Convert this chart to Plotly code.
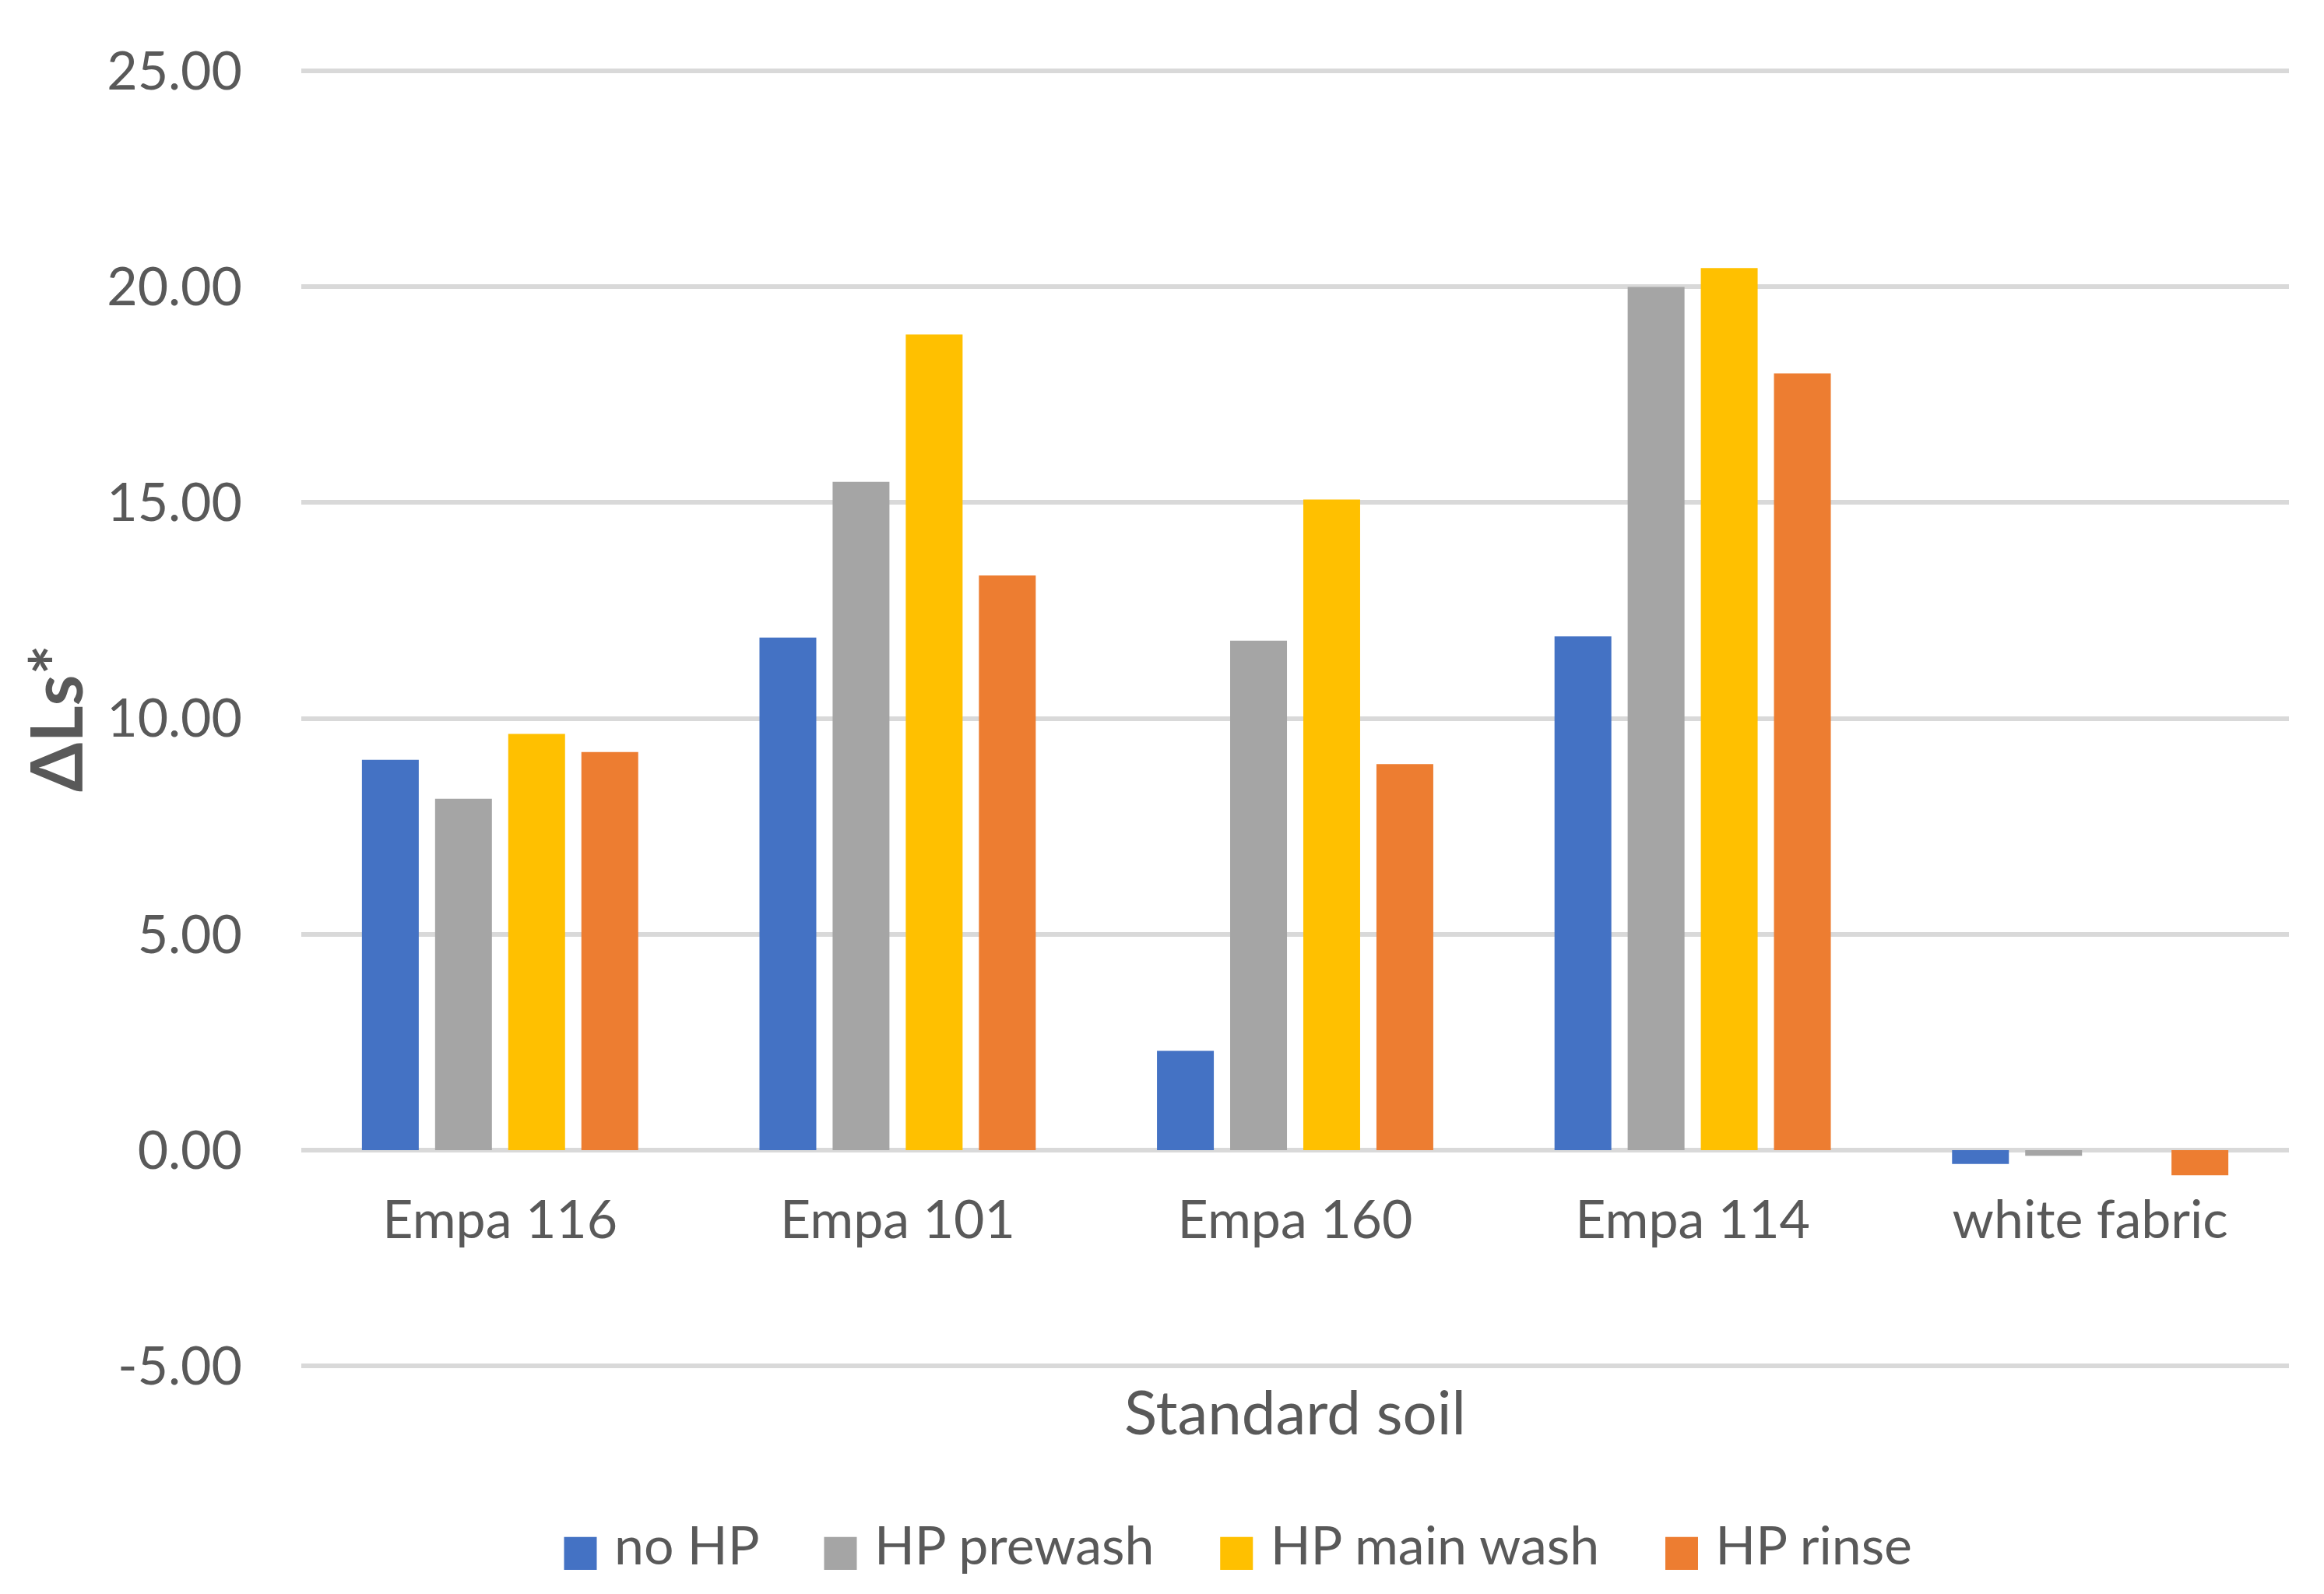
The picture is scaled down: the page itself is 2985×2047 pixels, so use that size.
import plotly.graph_objects as go

categories = ["Empa 116", "Empa 101", "Empa 160", "Empa 114", "white fabric"]
series_names = ["no HP", "HP prewash", "HP main wash", "HP rinse"]
no_hp = [9.04, 11.87, 2.30, 11.90, -0.32]
hp_prewash = [8.14, 15.48, 11.80, 19.99, -0.13]
hp_main_wash = [9.64, 18.89, 15.07, 20.43, 0.0]
hp_rinse = [9.22, 13.31, 8.94, 17.99, -0.58]
series_values = [no_hp, hp_prewash, hp_main_wash, hp_rinse]
colors = ["#4472C4", "#A5A5A5", "#FFC000", "#ED7D31"]

y_tick_vals = [-5, 0, 5, 10, 15, 20, 25]
y_tick_text = ["-5.00", "0.00", "5.00", "10.00", "15.00", "20.00", "25.00"]

FONT = "Lato"
GREY = "#595959"
Y_MIN, Y_MAX = -5.05, 25.05

fig = go.Figure()
for name, vals, col in zip(series_names, series_values, colors):
    fig.add_trace(go.Bar(x=categories, y=vals, name=name, showlegend=False,
                         marker=dict(color=col, line=dict(width=0))))

# legend entries with large square swatches
for i, (name, col) in enumerate(zip(series_names, colors)):
    pad = "\u00a0\u00a0" if i < len(series_names) - 1 else ""
    fig.add_trace(go.Scatter(
        x=[None], y=[None], mode="lines", line=dict(width=0, color=col),
        name=(f'<span style="color:{col};font-family:DejaVu Sans;font-size:55px">■</span>'
              f' {name}{pad}'),
        hoverinfo="skip",
    ))

fig.update_layout(
    width=2985,
    height=2047,
    margin=dict(l=379, r=53, t=80, b=298),
    paper_bgcolor="white",
    plot_bgcolor="white",
    barmode="group",
    bargap=0.264,
    bargroupgap=0.223,
    font=dict(family=FONT, color=GREY, size=68),
    legend=dict(
        orientation="h",
        x=0.4636,
        xanchor="center",
        y=-0.1355,
        yanchor="middle",
        font=dict(family=FONT, size=68, color=GREY),
        itemwidth=30,
        tracegroupgap=0,
    ),
    xaxis=dict(
        anchor="free",
        position=(0 - Y_MIN) / (Y_MAX - Y_MIN),
        showgrid=False,
        showline=False,
        zeroline=False,
        ticks="",
        ticklabelstandoff=44,
        tickfont=dict(family=FONT, size=68, color=GREY),
        title=dict(text="Standard soil", font=dict(family=FONT, size=78, color=GREY), standoff=184),
    ),
    yaxis=dict(
        range=[Y_MIN, Y_MAX],
        tickvals=y_tick_vals,
        ticktext=y_tick_text,
        showgrid=True,
        gridcolor="#D9D9D9",
        gridwidth=6,
        zeroline=False,
        showline=False,
        ticks="",
        ticklabelstandoff=75,
        tickfont=dict(family=FONT, size=68, color=GREY),
        title=dict(text="<b>ΔLs*</b>", font=dict(family=FONT, size=91, color=GREY), standoff=0),
    ),
)

fig.write_html("out.html")
